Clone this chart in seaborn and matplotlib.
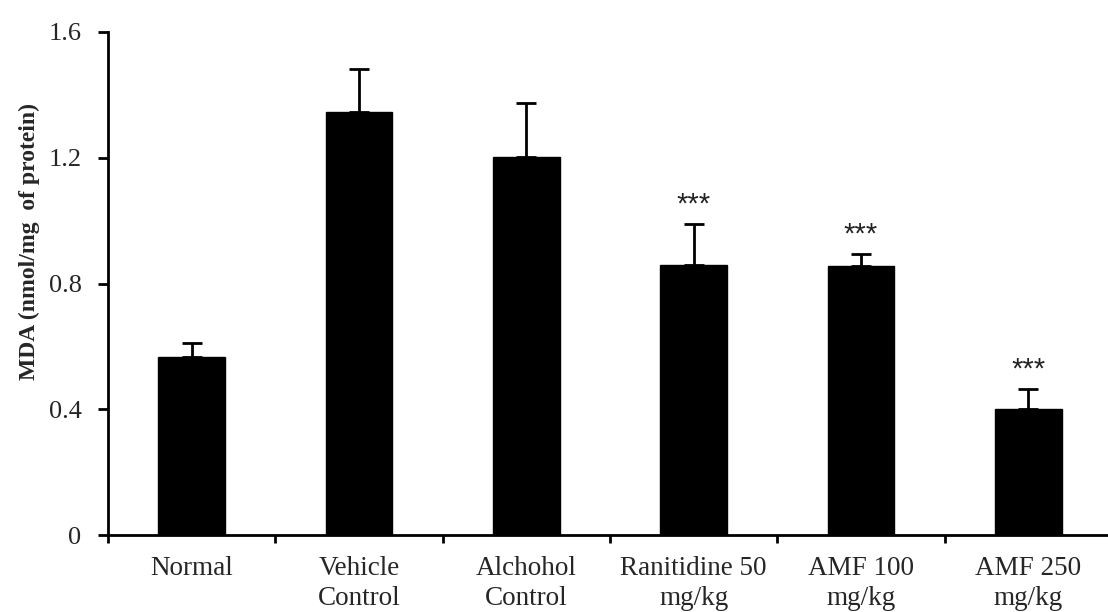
import matplotlib
matplotlib.use("Agg")
import matplotlib.pyplot as plt
import seaborn as sns
import numpy as np
import pandas as pd

categories = ["Normal", "Vehicle\nControl", "Alchohol\nControl",
              "Ranitidine 50\nmg/kg", "AMF 100\nmg/kg", "AMF 250\nmg/kg"]
means = [0.565, 1.346, 1.203, 0.860, 0.855, 0.400]
errors = [0.045, 0.135, 0.170, 0.129, 0.039, 0.064]
stars = ["", "", "", "***", "***", "***"]
yticks = [0, 0.4, 0.8, 1.2, 1.6]
ytick_labels = ["0", "0.4", "0.8", "1.2", "1.6"]

sns.set_style("white")
plt.rcParams["font.family"] = ["Liberation Serif", "DejaVu Serif"]

fig = plt.figure(figsize=(11.08, 6.12), dpi=100)
ax = fig.add_axes([108/1108, 1-535/612, 1004/1108, 503/612])

df = pd.DataFrame({"cat": categories, "val": means})
sns.barplot(data=df, x="cat", y="val", color="black", width=0.4,
            edgecolor="black", saturation=1, ax=ax)

x = np.arange(len(categories))
ax.errorbar(x, means, yerr=[np.zeros(len(errors)), errors], fmt="none",
            ecolor="black", elinewidth=2, capsize=7, capthick=2)

for xi, m, e, s in zip(x, means, errors, stars):
    if s:
        ax.annotate(s, xy=(xi, m + e), xytext=(0, 4), textcoords="offset points",
                    ha="center", va="bottom", fontsize=21, color="#222222",
                    family=["Liberation Sans", "DejaVu Sans"])

ax.set_xlim(-0.5, len(categories) - 0.5)
ax.set_ylim(0, 1.6)
ax.set_yticks(yticks)
ax.set_yticklabels(ytick_labels, fontsize=19)

# boundary ticks (major) without labels, category labels as minor ticks
ax.set_xticks(np.arange(len(categories)) - 0.5)
ax.set_xticklabels([""] * len(categories))
ax.set_xticks(x, minor=True)
ax.set_xticklabels(categories, minor=True, fontsize=19.5, linespacing=1.25)
ax.tick_params(axis="x", which="minor", length=0, pad=15)
ax.tick_params(axis="x", which="major", length=6, width=2, direction="out", color="black")
ax.tick_params(axis="y", length=7, width=2, direction="out", color="black", pad=12)
ax.tick_params(axis="both", bottom=True, left=True)

for sp in ["top", "right"]:
    ax.spines[sp].set_visible(False)
for sp in ["left", "bottom"]:
    ax.spines[sp].set_color("black")
    ax.spines[sp].set_linewidth(2)

ax.set_xlabel("")
ax.set_ylabel("MDA (nmol/mg  of protein)", fontsize=17, fontweight="bold")
ax.yaxis.set_label_coords((40 - 108) / 1004, (535 - 242) / 503)

fig.savefig("out.png", dpi=100)
